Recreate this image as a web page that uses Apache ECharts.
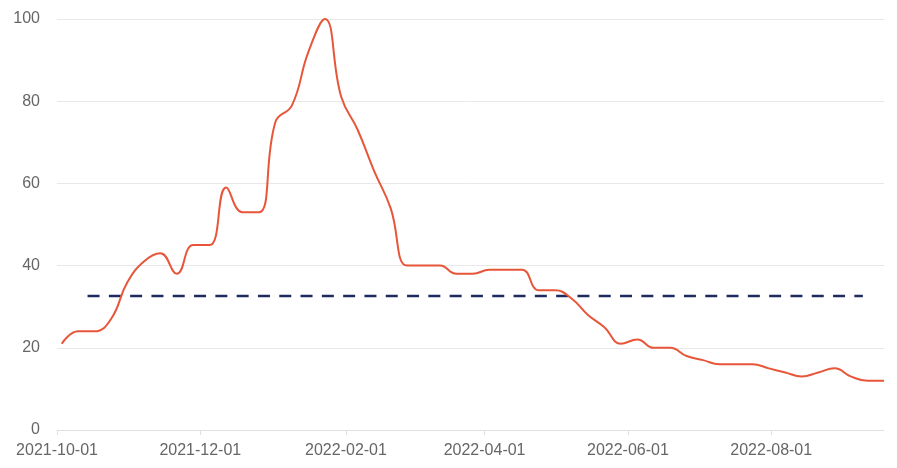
<!DOCTYPE html>
<html>
<head>
<meta charset="utf-8">
<script src="https://cdn.jsdelivr.net/npm/echarts@6/dist/echarts.min.js"></script>
<style>
html,body{margin:0;padding:0;background:#fff;}
#chart{width:897px;height:468px;}
</style>
</head>
<body>
<div id="chart"></div>
<script>
// Weekly dates (Sundays) starting 2021-10-03
var startDate = '2021-10-03';
var values = [21,24,24,27,36,41,43,38,45,45,59,53,53,75,79,92,100,81,73,63,54,40,40,40,38,38,39,39,39,34,34,32,28,25,21,22,20,20,18,17,16,16,16,15,14,13,14,15,13,12,12];
var thresholdDates = ['2021-10-14', '2022-09-09'];
var thresholdValues = [32.6, 32.6];
var xTickLabels = ['2021-10-01','2021-12-01','2022-02-01','2022-04-01','2022-06-01','2022-08-01'];
var xMin = '2021-10-01';
var yTicks = [0,20,40,60,80,100];

var DAY = 86400000;
function ts(d){ return new Date(d + 'T00:00:00Z').getTime(); }
var t0 = ts(startDate);
var seriesData = values.map(function(v, i){ return [t0 + i*7*DAY, v]; });
var thresholdData = thresholdDates.map(function(d, i){ return [ts(d), thresholdValues[i]]; });
var tickTimes = xTickLabels.map(ts);

function fmt(t){
  var d = new Date(t);
  var m = d.getUTCMonth()+1, dd = d.getUTCDate();
  return d.getUTCFullYear() + '-' + (m<10?'0':'') + m + '-' + (dd<10?'0':'') + dd;
}

var chart = echarts.init(document.getElementById('chart'), null, {renderer:'canvas'});
chart.setOption({
  animation:false,
  grid:{left:57, right:13, top:19, bottom:38, containLabel:false},
  xAxis:{
    type:'value',
    min:ts(xMin),
    max:seriesData[seriesData.length-1][0],
    axisLine:{show:true, lineStyle:{color:'#e0e0e0', width:1}},
    axisTick:{show:true, length:5, lineStyle:{color:'#e0e0e0'}, customValues:tickTimes},
    splitLine:{show:false},
    axisLabel:{
      customValues:tickTimes,
      hideOverlap:false,
      color:'#666', fontSize:16, fontFamily:'Liberation Sans, Arial, sans-serif',
      margin:13,
      formatter:function(v){ return fmt(v); }
    }
  },
  yAxis:{
    type:'value',
    min:yTicks[0], max:yTicks[yTicks.length-1], interval:20,
    axisLine:{show:false},
    axisTick:{show:false},
    splitLine:{show:true, lineStyle:{color:'#e8e8e8', width:1}},
    axisLabel:{color:'#666', fontSize:16, fontFamily:'Liberation Sans, Arial, sans-serif', margin:17}
  },
  series:[
    {
      type:'line',
      data:seriesData,
      smooth:0.45,
      symbol:'none',
      lineStyle:{color:'#e8563a', width:2},
      z:3
    },
    {
      type:'line',
      data:thresholdData,
      symbol:'none',
      silent:true,
      lineStyle:{color:'#1f2b5c', width:2.5, type:[12,9.3]},
      z:2
    }
  ]
});
</script>
</body>
</html>
